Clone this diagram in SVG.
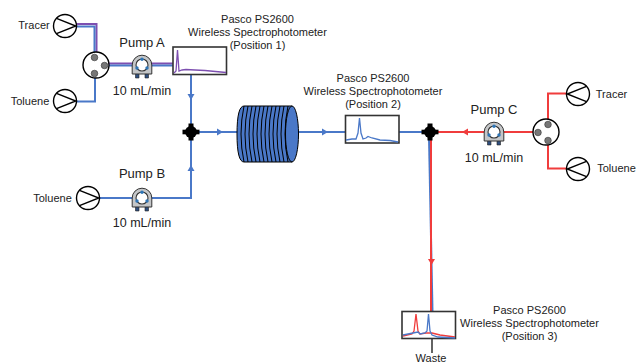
<svg xmlns="http://www.w3.org/2000/svg" width="636" height="363" viewBox="0 0 636 363">
<style>
text{font-family:"Liberation Sans",Arial,sans-serif;fill:#222;text-anchor:middle}
.s{font-size:11px}.p{font-size:13px}.m{font-size:12.5px}
.b,.r,.v{fill:none;stroke-width:2}
.b{stroke:#4a78c8}.r{stroke:#f03c3c}.v{stroke:#7d4fb0}
.box{fill:#fff;stroke:#333;stroke-width:1.6}
.ring{fill:#fff;stroke:#000;stroke-width:1.4}
.port{fill:#777;stroke:#333;stroke-width:.6}
.tr{fill:none;stroke-width:1.2}
</style>
<defs>
<g id="pumpSym"><circle r="11.5" class="ring"/><path d="M-8.500-7.700L10.800 0L-8.500 7.700" fill="none" stroke="#000" stroke-width="1.4"/></g>
<g id="pumpSymR"><circle r="11.500" class="ring"/><path d="M8.500-7.700L-10.800 0L8.500 7.700" fill="none" stroke="#000" stroke-width="1.4"/></g>
<g id="peri">
<path d="M-6.500 6V13H-3V6M3 6V13H6.500V6" fill="#2f4f7f" stroke="#222" stroke-width=".6"/>
<path d="M-9.800 9V0A9.800 9.800 0 0 1 9.800 0V9Z" fill="#c4c6c8" stroke="#333" stroke-width="1"/>
<circle r="6" fill="#fff" stroke="#333" stroke-width="1.100"/>
<circle cy="-5.800" r="1.700" fill="#2e75b6"/><circle cx="-5" cy="3" r="1.700" fill="#2e75b6"/><circle cx="5" cy="3" r="1.700" fill="#2e75b6"/>
</g>
<g id="jct"><circle r="6" fill="#000"/><path d="M-2.500-8.500H2.500V8.500H-2.500Z" fill="#000"/><path d="M-8.500-2.300V2.300H8.500V-2.300Z" fill="#000"/></g>
</defs>

<g id="connectors">
<path class="v" d="M76 24H96.500V55"/>
<path class="b" d="M76 26.500H94.500V55"/>
<path class="b" d="M76 101.500H95V78"/>
<path class="v" d="M108 63.500H173"/>
<path class="b" d="M108 65.500H173"/>
<path class="b" d="M191 74V126"/>
<path class="b" d="M100 198H191V138"/>
<path class="b" d="M198 132H238M298 132H345M399 132H424"/>
<path class="b" d="M429 138L432.500 311"/>
<path class="r" d="M431 138V311"/>
<path class="r" d="M436 132H534"/>
<path class="r" d="M566 93.500H548V120M566 168.500H548V144"/>
<path d="M432 339V353" stroke="#222" stroke-width="1.400" fill="none"/>
<path d="M187.500 94H194.500L191 100Z" fill="#4a78c8"/>
<path d="M187.500 171L191 165L194.500 171Z" fill="#4a78c8"/>
<path d="M217 128.500V135.500L223 132Z" fill="#4a78c8"/>
<path d="M322 128.500V135.500L328 132Z" fill="#4a78c8"/>
<path d="M468 128.500V135.500L462 132Z" fill="#f03c3c"/>
<path d="M428 259H435L431.500 265Z" fill="#f03c3c"/>
</g>

<g id="tracer-a"><use href="#pumpSym" x="65" y="26"/><text class="s" x="34" y="29">Tracer</text></g>
<g id="toluene-a"><use href="#pumpSym" x="65" y="101"/><text class="s" x="30" y="105">Toluene</text></g>
<g id="valve-a"><circle cx="96" cy="65" r="13" class="ring"/><circle cx="94.500" cy="57.500" r="3.300" class="port"/><circle cx="104.500" cy="65.500" r="3.300" class="port"/><circle cx="94.500" cy="73.500" r="3.300" class="port"/></g>
<g id="pump-a"><use href="#peri" x="142" y="65"/><text class="p" x="142" y="47">Pump A</text><text class="m" x="142" y="95">10 mL/min</text></g>
<g id="spec-1"><rect class="box" x="173" y="47" width="53.500" height="27.500"/>
<path d="M174 73L176 71L177.500 50L179 71L182 70L186 69.500L195 70L205 70.500L226 72.500" fill="none" stroke="#7d4fb0" stroke-width="1.300"/>
<text class="s" x="257.500" y="23">Pasco PS2600</text><text class="s" x="257.500" y="36">Wireless Spectrophotometer</text><text class="s" x="257.500" y="49">(Position 1)</text></g>
<g id="toluene-b"><use href="#pumpSym" x="88" y="198"/><text class="s" x="52.500" y="202">Toluene</text></g>
<g id="pump-b"><use href="#peri" x="142" y="198"/><text class="p" x="142" y="178">Pump B</text><text class="m" x="142" y="227">10 mL/min</text></g>
<g id="junction-1"><use href="#jct" x="191" y="132"/></g>
<g id="coil">
<path d="M244 106H292V162H244Q237 162 237 134Q237 106 244 106Z" fill="#4a78c8" stroke="#000" stroke-width="1"/>
<ellipse cx="292" cy="134" rx="6.500" ry="28" fill="#4a78c8" stroke="#000" stroke-width="1"/>
<path d="M244 106Q238 134 244 162M248 106Q242 134 248 162M252 106Q246 134 252 162M256 106Q250 134 256 162M260 106Q254 134 260 162M264 106Q258 134 264 162M268 106Q262 134 268 162M272 106Q266 134 272 162M276 106Q270 134 276 162M280 106Q274 134 280 162M284 106Q278 134 284 162M288 106Q282 134 288 162" fill="none" stroke="#000" stroke-width="1"/>
</g>
<g id="spec-2"><rect class="box" x="345.500" y="115.500" width="53.500" height="27.500"/>
<path d="M346 140L352 139L356 139L358 133L359.500 118L361 133L363 139L366 138L368 136.500L372 138L380 140L390 140.500L398 142" fill="none" stroke="#4a78c8" stroke-width="1.300"/>
<text class="s" x="373" y="82">Pasco PS2600</text><text class="s" x="373" y="95">Wireless Spectrophotometer</text><text class="s" x="373" y="108">(Position 2)</text></g>
<g id="junction-2"><use href="#jct" x="430" y="132"/></g>
<g id="pump-c"><use href="#peri" x="494" y="132"/><text class="p" x="494" y="114">Pump C</text><text class="m" x="494" y="162">10 mL/min</text></g>
<g id="valve-c"><circle cx="546" cy="132" r="13" class="ring"/><circle cx="548" cy="124.500" r="3.300" class="port"/><circle cx="538" cy="132.500" r="3.300" class="port"/><circle cx="548" cy="140.500" r="3.300" class="port"/></g>
<g id="tracer-c"><use href="#pumpSymR" x="578" y="94"/><text class="s" x="611.500" y="98">Tracer</text></g>
<g id="toluene-c"><use href="#pumpSymR" x="578" y="169"/><text class="s" x="616.500" y="172">Toluene</text></g>
<g id="spec-3"><rect class="box" x="402" y="311.500" width="53.500" height="27"/>
<path d="M403 336L412 334L414 331L416 314L418 331L420 334L426 333L432 333L440 335L455 337" fill="none" stroke="#f03c3c" stroke-width="1.300"/>
<path d="M403 335L413 333L418 332L420 334L425 333L427 331L428.500 314L430 331L432 335L438 337L455 338" fill="none" stroke="#4a78c8" stroke-width="1.300"/>
<text class="s" x="529.500" y="314">Pasco PS2600</text><text class="s" x="529.500" y="327">Wireless Spectrophotometer</text><text class="s" x="529.500" y="340">(Position 3)</text></g>
<g id="waste"><text class="s" x="431" y="362">Waste</text></g>
</svg>
